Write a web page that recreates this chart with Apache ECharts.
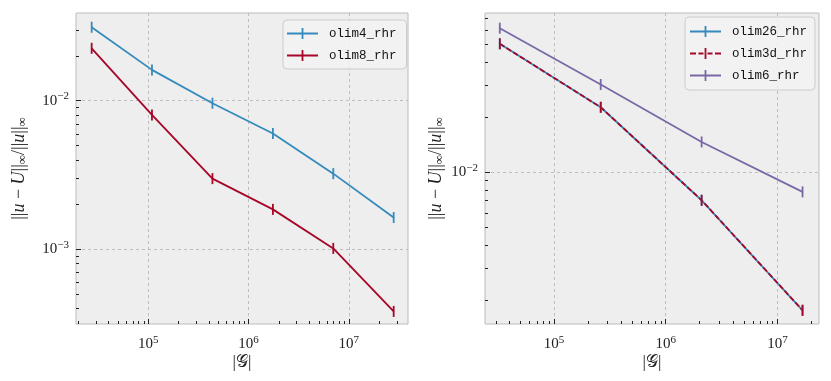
<!DOCTYPE html>
<html>
<head>
<meta charset="utf-8">
<title>olim error</title>
<script src="https://cdn.jsdelivr.net/npm/echarts@6/dist/echarts.min.js"></script>
<style>
  html, body { margin: 0; background: #fff; }
  #chart { width: 831px; height: 381px; }
</style>
</head>
<body>
<div id="chart"></div>
<script>
// left panel: grid size vs relative error
var sizesLeft = [27300, 109000, 437000, 1750000, 7000000, 28000000];
var olim4 = [0.0312, 0.0161, 0.0096, 0.0060, 0.00322, 0.00163];
var olim8 = [0.0225, 0.0080, 0.00298, 0.00185, 0.00101, 0.00038];
// right panel
var sizesRight = [32768, 262144, 2097152, 16777216];
var olim26 = [0.0503, 0.0226, 0.0070, 0.00175];
var olim3d = [0.0503, 0.0226, 0.0070, 0.00175];
var olim6 = [0.0612, 0.0301, 0.0146, 0.00778];
var namesLeft = ['olim4_rhr', 'olim8_rhr'];
var namesRight = ['olim26_rhr', 'olim3d_rhr', 'olim6_rhr'];

var BLUE = '#348ABD', RED = '#A60628', PURPLE = '#7A68A6';
var serif = "'Liberation Serif', 'DejaVu Serif', serif";
var mono = "'Liberation Mono', 'DejaVu Sans Mono', monospace";

function pairs(xs, ys) {
    return xs.map(function (x, i) { return [x, ys[i]]; });
}

function powLabel(v) {
    var e = Math.round(Math.log10(v));
    return '10{sup|' + (e < 0 ? '\u2212' + (-e) : e) + '}';
}
var labelRich = {
    sup: { fontFamily: serif, fontSize: 11, verticalAlign: 'top', padding: [0, 0, 8, 0], color: '#222' }
};

// axis extents (log space), as in the picture
var ext = {
    lx: [Math.pow(10, 4.28), Math.pow(10, 7.59)],
    ly: [Math.pow(10, -3.505), Math.pow(10, -1.41)],
    rx: [Math.pow(10, 4.383), Math.pow(10, 7.372)],
    ry: [Math.pow(10, -2.832), Math.pow(10, -1.13)]
};

function minorValues(lo, hi) {
    var out = [];
    for (var k = Math.floor(Math.log10(lo)); k <= Math.ceil(Math.log10(hi)); k++) {
        for (var m = 2; m <= 9; m++) {
            var v = m * Math.pow(10, k);
            if (v > lo && v < hi) out.push(v);
        }
    }
    return out;
}

function minorTickSeries(idx, xe, ye) {
    return {
        type: 'custom',
        xAxisIndex: idx, yAxisIndex: idx,
        silent: true, clip: false, z: 5,
        data: [[xe[0] * 1.0001, ye[0] * 1.0001]],
        renderItem: function (params, api) {
            var cs = params.coordSys;
            var kids = [];
            var bottom = cs.y + cs.height;
            minorValues(xe[0], xe[1]).forEach(function (v) {
                var px = Math.round(api.coord([v, ye[0]])[0]) + 0.5;
                kids.push({ type: 'line', shape: { x1: px, y1: bottom, x2: px, y2: bottom - 3 },
                    style: { stroke: '#222', lineWidth: 1 } });
            });
            minorValues(ye[0], ye[1]).forEach(function (v) {
                var py = Math.round(api.coord([xe[0], v])[1]) + 0.5;
                kids.push({ type: 'line', shape: { x1: cs.x, y1: py, x2: cs.x + 3, y2: py },
                    style: { stroke: '#222', lineWidth: 1 } });
            });
            return { type: 'group', children: kids };
        }
    };
}

function xAxisFor(idx, e) {
    return {
        type: 'log', gridIndex: idx, min: e[0], max: e[1], logBase: 10,
        name: '|\uD835\uDCA2|', nameLocation: 'middle', nameGap: 30, nameMoveOverlap: false,
        nameTextStyle: { fontFamily: serif, fontSize: 17, color: '#222' },
        axisLine: { show: false },
        axisTick: { show: true, inside: true, length: 5, lineStyle: { color: '#222', width: 1 } },
        axisLabel: { formatter: powLabel, rich: labelRich, fontFamily: serif, fontSize: 15, color: '#222',
            margin: 11, showMinLabel: false, showMaxLabel: false },
        splitLine: { show: true, showMinLine: false, showMaxLine: false,
            lineStyle: { color: '#b2b2b2', type: [3, 3], width: 0.8 } }
    };
}
function yAxisFor(idx, e, gap) {
    return {
        type: 'log', gridIndex: idx, min: e[0], max: e[1], logBase: 10,
        name: '||{i|u} \u2212 {i|U}||{s|\u221E}/||{i|u}||{s|\u221E}',
        nameLocation: 'middle', nameGap: gap, nameRotate: 90, nameMoveOverlap: false,
        nameTextStyle: { fontFamily: serif, fontSize: 18, color: '#222',
            rich: { i: { fontFamily: serif, fontStyle: 'italic', fontSize: 18, color: '#222' },
                    s: { fontFamily: serif, fontSize: 13, verticalAlign: 'bottom', padding: [7, 0, 0, 0], color: '#222' } } },
        axisLine: { show: false },
        axisTick: { show: true, inside: true, length: 5, lineStyle: { color: '#222', width: 1 } },
        axisLabel: { formatter: powLabel, rich: labelRich, fontFamily: serif, fontSize: 15, color: '#222',
            margin: 7, showMinLabel: false, showMaxLabel: false },
        splitLine: { show: true, showMinLine: false, showMaxLine: false,
            lineStyle: { color: '#b2b2b2', type: [3, 3], width: 0.8 } }
    };
}

function lineSeries(name, idx, xs, ys, color, dash) {
    return {
        name: name, type: 'line', xAxisIndex: idx, yAxisIndex: idx,
        data: pairs(xs, ys),
        symbol: 'rect', symbolSize: [1.8, 11],
        itemStyle: { color: color },
        lineStyle: { color: color, width: 1.8, type: dash || 'solid' },
        z: 10
    };
}

var plusIcon = 'path://M0,4.6h31v1.8h-31z M14.6,0h1.8v11h-1.8z';
var dashIcon = 'path://M0,4.6h6v1.8h-6z M8.5,4.6h5v1.8h-5z M17.5,4.6h5v1.8h-5z M25,4.6h6v1.8h-6z M14.6,0h1.8v11h-1.8z';

var legendBase = {
    orient: 'vertical', itemWidth: 31, itemHeight: 11, itemGap: 9,
    backgroundColor: 'rgba(242,242,242,0.85)', borderColor: '#cccccc', borderWidth: 1, borderRadius: 4,
    textStyle: { fontFamily: mono, fontSize: 12.5, color: '#111', padding: [0, 0, 0, 6] }
};

var chart = echarts.init(document.getElementById('chart'));
chart.setOption({
    animation: false,
    backgroundColor: '#ffffff',
    grid: [
        { left: 76, top: 13, width: 332, height: 311, show: true, backgroundColor: '#eeeeee', borderColor: '#bcbcbc', borderWidth: 1 },
        { left: 485, top: 13, width: 334, height: 311, show: true, backgroundColor: '#eeeeee', borderColor: '#bcbcbc', borderWidth: 1 }
    ],
    xAxis: [xAxisFor(0, ext.lx), xAxisFor(1, ext.rx)],
    yAxis: [yAxisFor(0, ext.ly, 47), yAxisFor(1, ext.ry, 39)],
    legend: [
        Object.assign({}, legendBase, {
            left: 283, top: 20, padding: [7, 10, 7, 4],
            data: [{ name: namesLeft[0], icon: plusIcon }, { name: namesLeft[1], icon: plusIcon }]
        }),
        Object.assign({}, legendBase, {
            left: 685, top: 17, padding: [8, 8, 8, 5],
            data: [{ name: namesRight[0], icon: plusIcon }, { name: namesRight[1], icon: dashIcon },
                   { name: namesRight[2], icon: plusIcon }]
        })
    ],
    series: [
        lineSeries(namesLeft[0], 0, sizesLeft, olim4, BLUE),
        lineSeries(namesLeft[1], 0, sizesLeft, olim8, RED),
        lineSeries(namesRight[0], 1, sizesRight, olim26, BLUE),
        lineSeries(namesRight[1], 1, sizesRight, olim3d, RED, [5.5, 2.4]),
        lineSeries(namesRight[2], 1, sizesRight, olim6, PURPLE),
        minorTickSeries(0, ext.lx, ext.ly),
        minorTickSeries(1, ext.rx, ext.ry)
    ]
});
</script>
</body>
</html>
